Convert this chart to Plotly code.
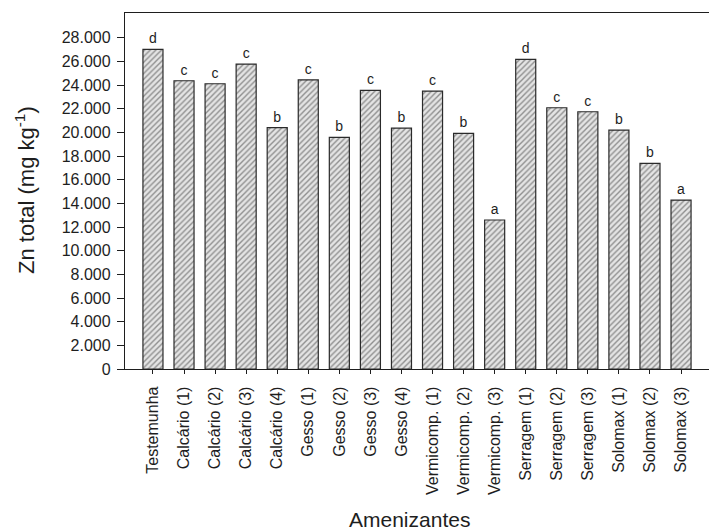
import plotly.graph_objects as go

categories = ["Testemunha", "Calcário (1)", "Calcário (2)", "Calcário (3)", "Calcário (4)",
              "Gesso (1)", "Gesso (2)", "Gesso (3)", "Gesso (4)",
              "Vermicomp. (1)", "Vermicomp. (2)", "Vermicomp. (3)",
              "Serragem (1)", "Serragem (2)", "Serragem (3)",
              "Solomax (1)", "Solomax (2)", "Solomax (3)"]
zn_total = [27020, 24370, 24120, 25780, 20400, 24450, 19580, 23560, 20370,
            23500, 19920, 12600, 26180, 22090, 21750, 20200, 17390, 14280]
letters = ["d", "c", "c", "c", "b", "c", "b", "c", "b",
           "c", "b", "a", "d", "c", "c", "b", "b", "a"]
y_ticks = list(range(0, 28001, 2000))

FONT = "Liberation Sans, Arial, sans-serif"
INK = "#1e1e1e"

fig = go.Figure(go.Bar(
    x=categories, y=zn_total,
    text=letters, textposition="outside", cliponaxis=False,
    textfont=dict(family=FONT, size=14, color=INK),
    marker=dict(
        color="#e4e4e4",
        line=dict(color="#2a2a2a", width=1.2),
        pattern=dict(shape="/", fgcolor="#3a3a3a", bgcolor="#e4e4e4",
                     size=4, solidity=0.35),
    ),
))

fig.update_layout(
    width=709, height=532,
    margin=dict(l=125, r=0, t=13, b=163),
    plot_bgcolor="white", paper_bgcolor="white",
    separators=",.",
    bargap=0.355,
    showlegend=False,
    font=dict(family=FONT, color=INK, size=16),
    annotations=[
        dict(text="Zn total (mg kg<sup>-1</sup>)", xref="paper", yref="paper",
             x=(25 - 125) / 584, y=(369 - 190) / 356, textangle=-90, showarrow=False,
             font=dict(family=FONT, size=22, color=INK), xanchor="center", yanchor="middle"),
        dict(text="Amenizantes", xref="paper", yref="paper",
             x=(409 - 125) / 584, y=-(519 - 369) / 356, showarrow=False,
             font=dict(family=FONT, size=21, color=INK), xanchor="center", yanchor="middle"),
    ],
)

fig.update_xaxes(
    type="category", range=[-0.9, 17.9],
    showline=True, linecolor=INK, linewidth=1.3, mirror=True,
    ticks="outside", ticklen=4, tickcolor=INK, tickangle=-90,
    ticklabelstandoff=6,
    tickfont=dict(family=FONT, size=16, color=INK),
    showgrid=False,
)
fig.update_yaxes(
    range=[0, 30100], tickvals=y_ticks, tickformat=",d",
    showline=True, linecolor=INK, linewidth=1.3,
    ticks="outside", ticklen=7, tickcolor=INK,
    ticklabelstandoff=3,
    tickfont=dict(family=FONT, size=16, color=INK),
    showgrid=False, zeroline=False,
)

fig.write_html("out.html")
